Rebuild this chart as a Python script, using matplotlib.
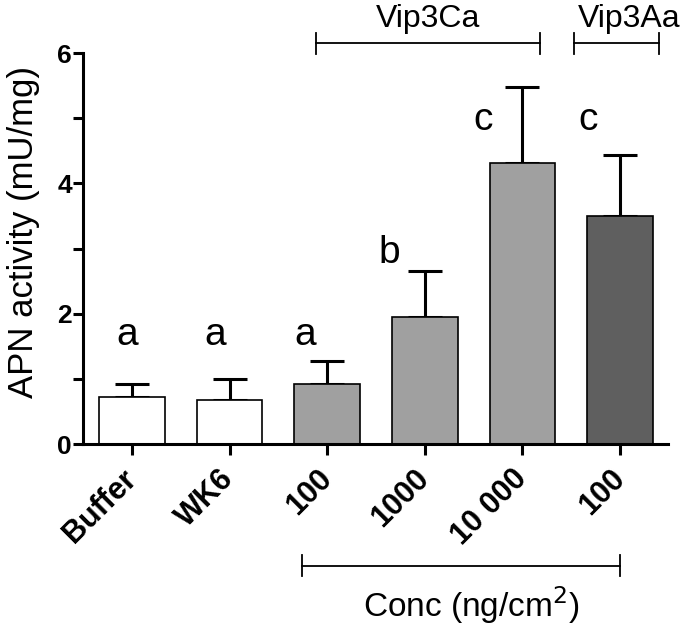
import numpy as np
import matplotlib
matplotlib.use('Agg')
import matplotlib.pyplot as plt
import matplotlib.transforms as mtransforms

plt.rcParams['font.family'] = ['Liberation Sans', 'DejaVu Sans']

groups = ['Buffer', 'WK6', '100', '1000', '10 000', '100']
means = [0.72, 0.675, 0.92, 1.95, 4.31, 3.50]
sem = [0.20, 0.33, 0.35, 0.70, 1.17, 0.93]
letters = ['a', 'a', 'a', 'b', 'c', 'c']
letter_y = [1.52, 1.52, 1.52, 2.78, 4.82, 4.82]
letter_dx = [-0.05, -0.15, -0.23, -0.36, -0.40, -0.33]
colors = ['white', 'white', '#a0a0a0', '#a0a0a0', '#a0a0a0', '#5f5f5f']

fig = plt.figure(figsize=(6.85, 6.3), dpi=100)
ax = fig.add_axes([0.1212, 0.2952, 0.854, 0.6206])

x = np.arange(len(groups))
ax.bar(x, means, width=0.67, color=colors, edgecolor='black', linewidth=1.2, zorder=2)
ax.errorbar(x, means, yerr=[np.zeros(len(sem)), sem], fmt='none', ecolor='black',
            elinewidth=2.2, capsize=12.5, capthick=2.2, zorder=1)

for xi, lab, ly, dx in zip(x, letters, letter_y, letter_dx):
    ax.text(xi + dx, ly, lab, ha='center', va='baseline', fontsize=28)

ax.set_xlim(-0.5, 5.49)
ax.set_ylim(0, 6)
ax.set_yticks([0, 2, 4, 6])
ax.set_yticks([1, 3, 5], minor=True)
ax.set_yticklabels(['0', '2', '4', '6'], fontsize=19, fontweight='bold')
ax.set_xticks(x)
ax.set_xticklabels(groups, rotation=45, ha='right', va='center', rotation_mode='anchor',
                   fontsize=22, fontweight='bold')
shift = mtransforms.ScaledTranslation(0.1, 0, fig.dpi_scale_trans)
for lbl in ax.get_xticklabels():
    lbl.set_transform(lbl.get_transform() + shift)
ax.tick_params(axis='y', which='both', direction='out', length=7, width=2.2, pad=1)
ax.tick_params(axis='x', direction='out', length=8, width=2.2, pad=14)
ax.spines['top'].set_visible(False)
ax.spines['right'].set_visible(False)
ax.spines['left'].set_linewidth(2.2)
ax.spines['bottom'].set_linewidth(2.2)
fig.text(24 / 685, 1 - 232 / 630, 'APN activity (mU/mg)', rotation=90, ha='center',
         va='center', fontsize=25)


def bracket(x0, x1, y, h=0.16):
    ax.plot([x0, x1], [y, y], color='black', lw=1.3, clip_on=False)
    ax.plot([x0, x0], [y - h, y + h], color='black', lw=1.3, clip_on=False)
    ax.plot([x1, x1], [y - h, y + h], color='black', lw=1.3, clip_on=False)


bracket(1.885, 4.18, 6.15)
ax.text(3.03, 6.40, 'Vip3Ca', ha='center', va='baseline', fontsize=23, clip_on=False)
bracket(4.53, 5.40, 6.15)
ax.text(5.09, 6.40, 'Vip3Aa', ha='center', va='baseline', fontsize=23, clip_on=False)
bracket(1.74, 5.0, -1.87)
ax.text(3.47, -2.65, 'Conc (ng/cm$^{2}$)', ha='center', va='baseline', fontsize=24,
        clip_on=False)

fig.savefig('out.png', dpi=100)
